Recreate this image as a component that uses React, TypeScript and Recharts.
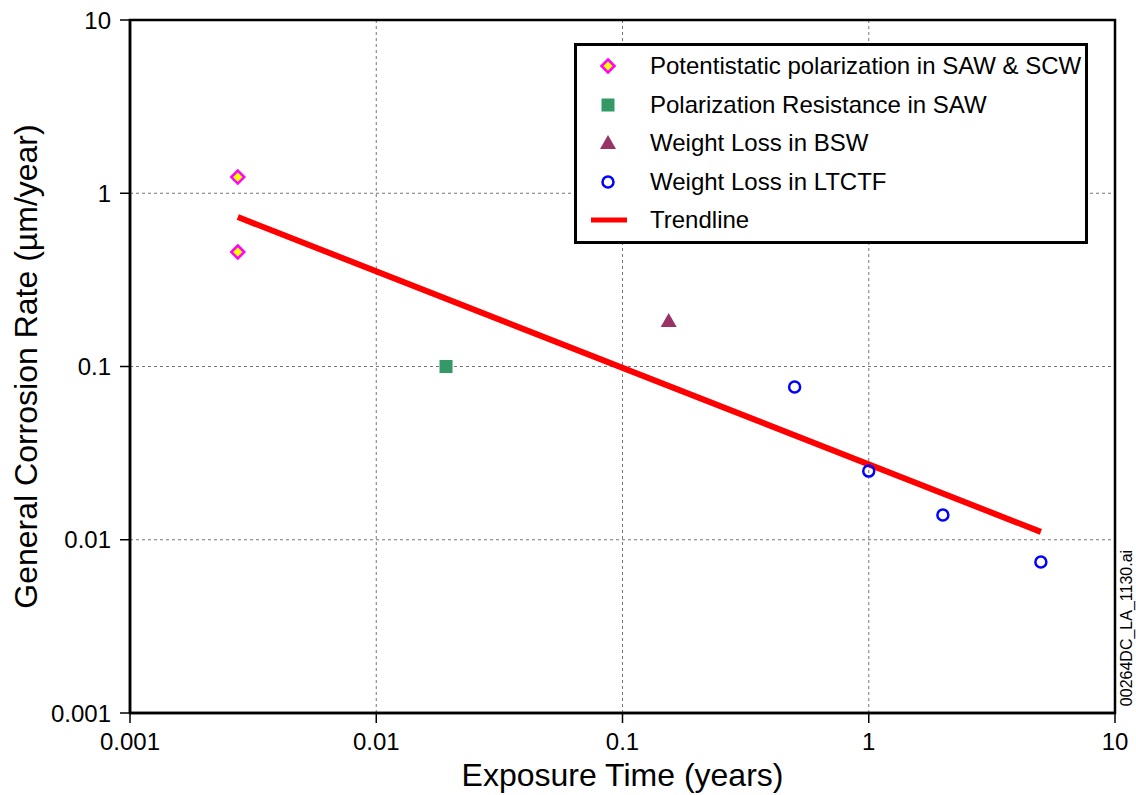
import React from 'react'
import {
  ScatterChart,
  Scatter,
  XAxis,
  YAxis,
  CartesianGrid,
  Legend,
  ReferenceArea,
} from 'recharts'

// exposure time (years) vs general corrosion rate (µm/year)
const potentiostatic = [
  { x: 0.00274, y: 1.24 },
  { x: 0.00274, y: 0.458 },
]
const polarizationResistance = [{ x: 0.0192, y: 0.1 }]
const weightLossBSW = [{ x: 0.154, y: 0.183 }]
const weightLossLTCTF = [
  { x: 0.5, y: 0.0762 },
  { x: 1, y: 0.0249 },
  { x: 2, y: 0.0139 },
  { x: 5, y: 0.00744 },
]
const trendline = [
  { x: 0.00274, y: 0.729 },
  { x: 5, y: 0.0111 },
]
const decadeTicks = [0.001, 0.01, 0.1, 1, 10]

const FONT = "'Liberation Sans', Arial, sans-serif"

const legendItems = [
  { key: 'diamond', label: 'Potentistatic polarization in SAW & SCW' },
  { key: 'square', label: 'Polarization Resistance in SAW' },
  { key: 'triangle', label: 'Weight Loss in BSW' },
  { key: 'circle', label: 'Weight Loss in LTCTF' },
  { key: 'line', label: 'Trendline' },
]

function Diamond({ cx, cy }: any) {
  const r = 6.5
  return (
    <polygon
      points={`${cx},${cy - r} ${cx + r},${cy} ${cx},${cy + r} ${cx - r},${cy}`}
      fill="#ffff00"
      stroke="#ff00ff"
      strokeWidth={2.5}
    />
  )
}

function Square({ cx, cy }: any) {
  return <rect x={cx - 6.5} y={cy - 6.5} width={13} height={13} fill="#339966" />
}

function Triangle({ cx, cy }: any) {
  return (
    <polygon
      points={`${cx},${cy - 8} ${cx + 8},${cy + 6} ${cx - 8},${cy + 6}`}
      fill="#993366"
    />
  )
}

function Ring({ cx, cy }: any) {
  return <circle cx={cx} cy={cy} r={5.5} fill="none" stroke="#0000ff" strokeWidth={2.5} />
}

function Nothing() {
  return <g />
}

function LegendMarker({ kind }: { kind: string }) {
  const c = 18
  return (
    <svg width={40} height={36} style={{ display: 'block' }}>
      {kind === 'diamond' && <Diamond cx={c} cy={c} />}
      {kind === 'square' && <Square cx={c} cy={c} />}
      {kind === 'triangle' && <Triangle cx={c} cy={c} />}
      {kind === 'circle' && <Ring cx={c} cy={c} />}
      {kind === 'line' && <line x1={1} x2={37} y1={c} y2={c} stroke="#ff0000" strokeWidth={5} />}
    </svg>
  )
}

function ChartLegend() {
  return (
    <div
      style={{
        boxSizing: 'border-box',
        width: 514,
        height: 201,
        border: '3px solid #000',
        background: '#fff',
        padding: '1px 0 0 13px',
        fontFamily: FONT,
        fontSize: 24,
        color: '#000',
      }}
    >
      {legendItems.map((it) => (
        <div key={it.key} style={{ display: 'flex', alignItems: 'center', height: 38.5 }}>
          <LegendMarker kind={it.key} />
          <span style={{ marginLeft: 20 }}>{it.label}</span>
        </div>
      ))}
    </div>
  )
}

function YTitle({ viewBox }: any) {
  const x = viewBox.x + 37
  const y = viewBox.y + viewBox.height / 2
  return (
    <text
      x={x}
      y={y}
      transform={`rotate(-90, ${x}, ${y})`}
      textAnchor="middle"
      fontFamily={FONT}
      fontSize={32}
      fill="#000"
    >
      General Corrosion Rate (µm/year)
    </text>
  )
}

function XTitle({ viewBox }: any) {
  return (
    <text
      x={viewBox.x + viewBox.width / 2}
      y={viewBox.y + 73}
      textAnchor="middle"
      fontFamily={FONT}
      fontSize={32}
      fill="#000"
    >
      Exposure Time (years)
    </text>
  )
}

export default function App() {
  const tickStyle = { fontSize: 24, fontFamily: FONT, fill: '#000' }
  return (
    <div style={{ position: 'absolute', left: 0, top: 0, width: 1136, height: 795, background: '#fff' }}>
      <ScatterChart width={1136} height={795} margin={{ top: 20, right: 21, left: 0, bottom: 0 }}>
        <CartesianGrid stroke="#777" strokeDasharray="3 3" />
        <XAxis
          type="number"
          dataKey="x"
          scale="log"
          domain={[0.001, 10]}
          ticks={decadeTicks}
          tickFormatter={(v) => String(v)}
          allowDataOverflow
          height={82}
          tickSize={10}
          tickMargin={10}
          tick={tickStyle}
          axisLine={{ stroke: '#000', strokeWidth: 2.5 }}
          tickLine={{ stroke: '#000', strokeWidth: 1.5 }}
          label={<XTitle />}
        />
        <YAxis
          type="number"
          dataKey="y"
          scale="log"
          domain={[0.001, 10]}
          ticks={decadeTicks}
          tickFormatter={(v) => String(v)}
          allowDataOverflow
          width={130}
          tickSize={10}
          tickMargin={9}
          tick={tickStyle}
          axisLine={{ stroke: '#000', strokeWidth: 2.5 }}
          tickLine={{ stroke: '#000', strokeWidth: 1.5 }}
          label={<YTitle />}
        />
        <ReferenceArea
          x1={0.001}
          x2={10}
          y1={0.001}
          y2={10}
          fill="none"
          stroke="#000"
          strokeWidth={2.5}
          ifOverflow="visible"
        />
        <Legend
          layout="horizontal"
          verticalAlign="middle"
          align="center"
          wrapperStyle={{ left: 574, top: 43, width: 514 }}
          content={() => <ChartLegend />}
        />
        <Scatter
          name="Trendline"
          data={trendline}
          line={{ stroke: '#ff0000', strokeWidth: 6 }}
          shape={<Nothing />}
          legendType="none"
          isAnimationActive={false}
        />
        <Scatter
          name="Potentistatic polarization in SAW & SCW"
          data={potentiostatic}
          shape={<Diamond />}
          isAnimationActive={false}
        />
        <Scatter
          name="Polarization Resistance in SAW"
          data={polarizationResistance}
          shape={<Square />}
          isAnimationActive={false}
        />
        <Scatter
          name="Weight Loss in BSW"
          data={weightLossBSW}
          shape={<Triangle />}
          isAnimationActive={false}
        />
        <Scatter
          name="Weight Loss in LTCTF"
          data={weightLossLTCTF}
          shape={<Ring />}
          isAnimationActive={false}
        />
      </ScatterChart>
      <div
        style={{
          position: 'absolute',
          left: 1127,
          top: 628,
          transform: 'translate(-50%, -50%) rotate(-90deg)',
          fontFamily: FONT,
          fontSize: 16,
          whiteSpace: 'nowrap',
          color: '#000',
        }}
      >
        00264DC_LA_1130.ai
      </div>
    </div>
  )
}
